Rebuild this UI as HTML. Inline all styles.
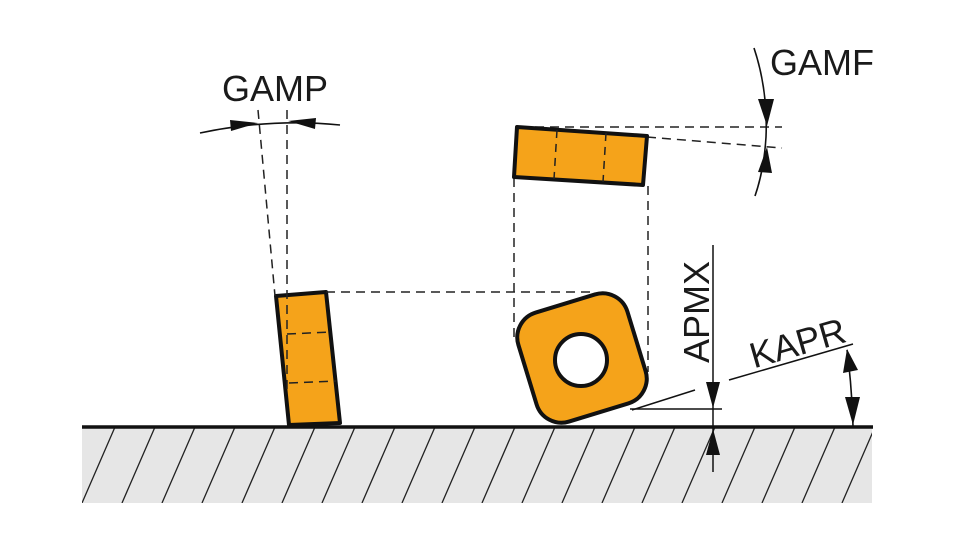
<!DOCTYPE html>
<html><head><style>
html,body{margin:0;padding:0;background:#fff;}
svg{display:block;}
text{font-family:"Liberation Sans",sans-serif;fill:#1a1a1a;}
</style></head><body>
<svg width="960" height="550" viewBox="0 0 960 550" xmlns="http://www.w3.org/2000/svg">
<defs>
<clipPath id="g"><rect x="82" y="428" width="790" height="75"/></clipPath>
<marker id="ar" viewBox="0 0 10 10" refX="10" refY="5" markerWidth="10" markerHeight="10" markerUnits="userSpaceOnUse" orient="auto"><path d="M0,0 L10,5 L0,10z" fill="#111"/></marker>
</defs>
<!-- ground -->
<rect x="82" y="428" width="790" height="75" fill="#e6e6e6"/>
<g clip-path="url(#g)" stroke="#222" stroke-width="1.3">
<path d="M42,503 L75,427 M82,503 L115,427 M122,503 L155,427 M162,503 L195,427 M202,503 L235,427 M242,503 L275,427 M282,503 L315,427 M322,503 L355,427 M362,503 L395,427 M402,503 L435,427 M442,503 L475,427 M482,503 L515,427 M522,503 L555,427 M562,503 L595,427 M602,503 L635,427 M642,503 L675,427 M682,503 L715,427 M722,503 L755,427 M762,503 L795,427 M802,503 L835,427 M842,503 L875,427"/>
</g>
<line x1="82" y1="427" x2="873" y2="427" stroke="#111" stroke-width="3.5"/>

<!-- left insert -->
<polygon points="276,296 326,292 340,423 289,425" fill="#f5a31a" stroke="#111" stroke-width="4" stroke-linejoin="round"/>
<g stroke="#222" stroke-width="1.5" stroke-dasharray="9,6" fill="none">
<line x1="287" y1="110" x2="287" y2="392"/>
<line x1="258" y1="110" x2="275" y2="296"/>
<line x1="287" y1="334" x2="331" y2="332"/>
<line x1="289" y1="383" x2="336" y2="381"/>
<line x1="326" y1="292" x2="592" y2="292"/>
<line x1="514" y1="178" x2="514" y2="340"/>
<line x1="648" y1="186" x2="648" y2="372"/>
<line x1="535" y1="127" x2="782" y2="127"/>
<line x1="647" y1="137" x2="782" y2="148"/>
</g>
<!-- GAMP -->
<path d="M200,133 Q270,118 340,125" fill="none" stroke="#111" stroke-width="1.6"/>
<polygon points="230,120 258,123 231,131" fill="#111"/>
<polygon points="316,118 288,121 315,129" fill="#111"/>
<text x="275" y="101" font-size="36" text-anchor="middle">GAMP</text>

<!-- top right insert -->
<polygon points="517,127 647,136 643,185 514,177" fill="#f5a31a" stroke="#111" stroke-width="4" stroke-linejoin="round"/>
<g stroke="#222" stroke-width="1.5" stroke-dasharray="8,6">
<line x1="557" y1="130" x2="554" y2="179"/>
<line x1="606" y1="133" x2="603" y2="182"/>
</g>
<!-- GAMF -->
<path d="M754,48 Q768,90 766,137 Q764,170 755,196" fill="none" stroke="#111" stroke-width="1.6"/>
<polygon points="758,99 774,99 767,126" fill="#111"/>
<polygon points="758,172 772,173 767,147" fill="#111"/>
<text x="770" y="75" font-size="36">GAMF</text>

<!-- round square insert -->
<g transform="rotate(-17 582 358)">
<rect x="525" y="301" width="114" height="114" rx="26" fill="#f5a31a" stroke="#111" stroke-width="4"/>
</g>
<circle cx="581" cy="360" r="26" fill="#fff" stroke="#111" stroke-width="4"/>

<!-- APMX -->
<line x1="713" y1="245" x2="713" y2="472" stroke="#111" stroke-width="1.5"/>
<polygon points="706,382 720,382 713,408" fill="#111"/>
<polygon points="706,455 720,455 713,429" fill="#111"/>
<line x1="630" y1="409" x2="722" y2="409" stroke="#111" stroke-width="1.5"/>
<text transform="translate(709,312) rotate(-90)" font-size="36" text-anchor="middle">APMX</text>

<!-- KAPR -->
<line x1="632" y1="410" x2="695" y2="390" stroke="#111" stroke-width="1.5"/>
<line x1="729" y1="380" x2="853" y2="344" stroke="#111" stroke-width="1.5"/>
<path d="M847,350 Q852,388 853,426" fill="none" stroke="#111" stroke-width="1.6"/>
<polygon points="843,373 858,370 847,349" fill="#111"/>
<polygon points="845,397 860,397 853,425" fill="#111"/>
<text transform="translate(801,355) rotate(-16)" font-size="36" text-anchor="middle">KAPR</text>
</svg>
</body></html>
